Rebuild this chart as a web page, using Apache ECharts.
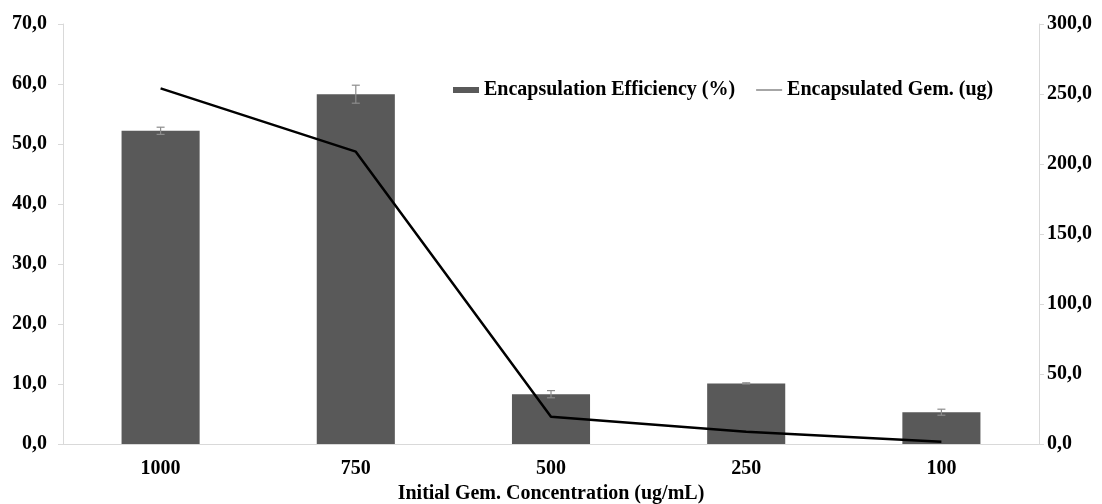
<!DOCTYPE html>
<html><head><meta charset="utf-8">
<script src="https://cdn.jsdelivr.net/npm/echarts@6/dist/echarts.min.js"></script>
<style>html,body{margin:0;padding:0;background:#fff}#c{width:1102px;height:504px}</style>
</head><body><div id="c"></div>
<script>
const categories = ['1000', '750', '500', '250', '100'];
const efficiency = [52.2, 58.3, 8.3, 10.1, 5.3];
const efficiencyErr = [0.6, 1.5, 0.6, 0.1, 0.5];
const encapsulated = [254.0, 208.8, 19.5, 8.8, 1.6];
const seriesNames = ['Encapsulation Efficiency (%)', 'Encapsulated Gem. (ug)'];
const xAxisName = 'Initial Gem. Concentration (ug/mL)';

const font = 'Liberation Serif, Times New Roman, serif';
const fs = 20;
const fmt = v => v.toFixed(1).replace('.', ',');
const chart = echarts.init(document.getElementById('c'));
chart.setOption({
  animation: false,
  textStyle: { fontFamily: font },
  grid: { left: 63, right: 63, top: 24, bottom: 60, outerBoundsMode: 'none', containLabel: false },
  legend: {
    left: 453, top: 80, padding: 0, itemWidth: 26, itemHeight: 6, itemGap: 20,
    textStyle: { fontFamily: font, fontWeight: 'bold', fontSize: fs, color: '#000' },
    data: [
      { name: seriesNames[0], icon: 'rect' },
      { name: seriesNames[1], itemStyle: { color: 'rgba(0,0,0,0)', borderWidth: 0 },
        lineStyle: { color: '#a6a6a6', width: 2 } }
    ]
  },
  xAxis: {
    type: 'category', data: categories,
    axisLine: { lineStyle: { color: '#d9d9d9', width: 1 } },
    axisTick: { show: false },
    axisLabel: { fontFamily: font, fontWeight: 'bold', fontSize: fs, color: '#000', margin: 15 },
    name: xAxisName, nameLocation: 'middle', nameGap: 40,
    nameTextStyle: { fontFamily: font, fontWeight: 'bold', fontSize: fs, color: '#000' }
  },
  yAxis: [
    { type: 'value', min: 0, max: 70, interval: 10,
      axisLine: { show: true, lineStyle: { color: '#d9d9d9' } },
      axisTick: { show: true, length: 5, lineStyle: { color: '#d9d9d9' } },
      splitLine: { show: false },
      axisLabel: { formatter: fmt, fontFamily: font, fontWeight: 'bold', fontSize: fs, color: '#000', margin: 16 } },
    { type: 'value', min: 0, max: 300, interval: 50, position: 'right',
      axisLine: { show: true, lineStyle: { color: '#d9d9d9' } },
      axisTick: { show: true, length: 5, lineStyle: { color: '#d9d9d9' } },
      splitLine: { show: false },
      axisLabel: { formatter: fmt, fontFamily: font, fontWeight: 'bold', fontSize: fs, color: '#000', margin: 8 } }
  ],
  series: [
    { name: seriesNames[0], type: 'bar', data: efficiency, barWidth: '40%',
      itemStyle: { color: '#595959' }, z: 2 },
    { name: 'err', type: 'custom', yAxisIndex: 0, z: 3,
      data: efficiency.map((v, i) => [i, v - efficiencyErr[i], v + efficiencyErr[i]]),
      renderItem: (params, api) => {
        const lo = api.coord([api.value(0), api.value(1)]);
        const hi = api.coord([api.value(0), api.value(2)]);
        const w = 4;
        const st = { stroke: '#8c8c8c', lineWidth: 1.2 };
        return { type: 'group', children: [
          { type: 'line', shape: { x1: hi[0], y1: hi[1], x2: lo[0], y2: lo[1] }, style: st },
          { type: 'line', shape: { x1: hi[0] - w, y1: hi[1], x2: hi[0] + w, y2: hi[1] }, style: st },
          { type: 'line', shape: { x1: lo[0] - w, y1: lo[1], x2: lo[0] + w, y2: lo[1] }, style: st }
        ]};
      } },
    { name: seriesNames[1], type: 'line', yAxisIndex: 1, data: encapsulated,
      symbol: 'none', lineStyle: { color: '#000', width: 2.5 }, itemStyle: { color: '#000' }, z: 4 }
  ]
});
</script></body></html>
